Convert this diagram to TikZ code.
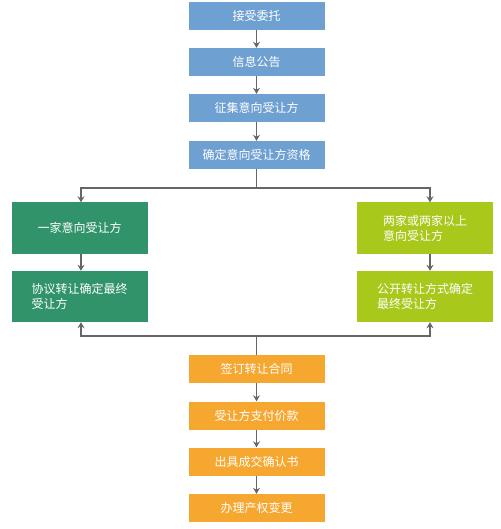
\documentclass[tikz,border=0pt]{standalone}
\usepackage{fontspec}
\setmainfont{Noto Sans CJK SC}
\usepackage{xcolor}
\usetikzlibrary{arrows.meta}
\definecolor{vblue}{HTML}{6FA0D2}
\definecolor{vgreen}{HTML}{31936A}
\definecolor{vlime}{HTML}{A9C81C}
\definecolor{vorange}{HTML}{F6A730}
\definecolor{vgray}{HTML}{666666}

\begin{document}
\begin{tikzpicture}[x=1pt, y=-1pt,
		box/.style={text=white, font=\fontsize{12}{15}\selectfont, align=left, inner sep=0pt, minimum width=136pt},
		arr/.style={color=vgray, line width=1.8pt, -{Stealth[length=6pt, width=7pt]}}]
		\useasboundingbox (0,0) rectangle (500,529);
		\node[box, fill=vblue, minimum height=28pt] (b1) at (256.5,16) {接受委托};
		\node[box, fill=vblue, minimum height=28pt] (b2) at (256.5,62) {信息公告};
		\node[box, fill=vblue, minimum height=28pt] (b3) at (256.5,108) {征集意向受让方};
		\node[box, fill=vblue, minimum height=28pt] (b4) at (256.5,155) {确定意向受让方资格};
		\node[box, fill=vgreen, minimum height=51pt] (g1) at (79.5,228) {一家意向受让方};
		\node[box, fill=vgreen, minimum height=51pt] (g2) at (79.5,296.5) {协议转让确定最终\\受让方};
		\node[box, fill=vlime, minimum height=51pt] (l1) at (425,228) {两家或两家以上\\意向受让方};
		\node[box, fill=vlime, minimum height=51pt] (l2) at (425,296.5) {公开转让方式确定\\最终受让方};
		\node[box, fill=vorange, minimum height=28pt] (o1) at (256.5,369) {签订转让合同};
		\node[box, fill=vorange, minimum height=28pt] (o2) at (256.5,415.5) {受让方支付价款};
		\node[box, fill=vorange, minimum height=28pt] (o3) at (256.5,461.5) {出具成交确认书};
		\node[box, fill=vorange, minimum height=28pt] (o4) at (256.5,508) {办理产权变更};
		\draw[arr] (b1) -- (b2);
		\draw[arr] (b2) -- (b3);
		\draw[arr] (b3) -- (b4);
		\draw[arr] (b4.south) -- ++(0,19) -| ([xshift=1.5pt]g1.north);
		\draw[arr] (b4.south) -- ++(0,19) -| ([xshift=5pt]l1.north);
		\draw[arr] ([xshift=1.5pt]g1.south) -- ([xshift=1.5pt]g2.north);
		\draw[arr] ([xshift=5pt]l1.south) -- ([xshift=5pt]l2.north);
		\draw[arr] (o1.north) -- ++(0,-19) -| ([xshift=1.5pt]g2.south);
		\draw[arr] (o1.north) -- ++(0,-19) -| ([xshift=5pt]l2.south);
		\draw[arr] (o1) -- (o2);
		\draw[arr] (o2) -- (o3);
		\draw[arr] (o3) -- (o4);
	\end{tikzpicture}
\end{document}
